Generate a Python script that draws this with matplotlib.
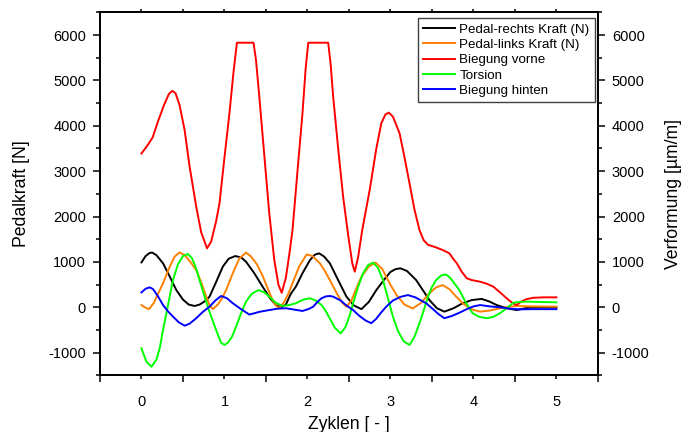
import numpy as np
import matplotlib
matplotlib.use("Agg")
import matplotlib.pyplot as plt

plt.rcParams['font.family'] = ['Liberation Sans', 'DejaVu Sans']

# ---------- Daten ----------
t_rechts = [0.00, 0.05, 0.10, 0.13, 0.18, 0.26, 0.34, 0.42, 0.50, 0.57, 0.64, 0.70, 0.76, 0.82,
            0.90, 0.98, 1.05, 1.13, 1.20, 1.26, 1.36, 1.46, 1.55, 1.62, 1.68, 1.74, 1.80, 1.86,
            1.94, 2.03, 2.09, 2.14, 2.20, 2.27, 2.37, 2.47, 2.56, 2.65, 2.74, 2.83, 2.92, 3.00,
            3.06, 3.12, 3.20, 3.31, 3.39, 3.47, 3.56, 3.65, 3.76, 3.87, 3.98, 4.10, 4.19, 4.28,
            4.40, 4.52, 4.60, 4.68, 5.00]
kraft_rechts = [990, 1130, 1200, 1205, 1150, 970, 680, 380, 170, 60, 30, 60, 130, 235,
                560, 895, 1070, 1130, 1100, 1005, 750, 455, 200, 50, 0, 60, 300, 455,
                750, 1040, 1160, 1190, 1120, 970, 600, 235, 40, -40, 120, 380, 600, 780,
                840, 860, 800, 600, 380, 160, -20, -95, -20, 90, 160, 185, 130, 50,
                -20, -60, -30, 0, 0]

t_links = [0.00, 0.04, 0.09, 0.15, 0.20, 0.26, 0.33, 0.40, 0.46, 0.52, 0.59, 0.66, 0.72, 0.78,
           0.82, 0.86, 0.92, 0.97, 1.02, 1.10, 1.18, 1.26, 1.32, 1.39, 1.46, 1.52, 1.58, 1.62,
           1.66, 1.72, 1.77, 1.82, 1.90, 1.99, 2.06, 2.15, 2.21, 2.27, 2.35, 2.42, 2.47, 2.53,
           2.59, 2.65, 2.74, 2.82, 2.90, 2.99, 3.07, 3.17, 3.27, 3.37, 3.47, 3.55, 3.63, 3.71,
           3.79, 3.87, 3.97, 4.08, 4.20, 4.32, 4.42, 4.52, 4.70, 5.00]
kraft_links = [50, 0, -40, 100, 300, 530, 850, 1120, 1210, 1150, 1000, 820, 550, 235,
               50, -40, 60, 200, 380, 750, 1080, 1205, 1120, 950, 695, 420, 160, 40,
               -20, 120, 300, 530, 900, 1165, 1130, 970, 800, 600, 320, 100, 15, 150,
               420, 675, 900, 985, 850, 530, 280, 60, -25, 100, 310, 440, 490, 400,
               240, 90, -40, -95, -70, -20, 10, 30, 20, 15]

t_vorne = [0.00, 0.07, 0.135, 0.20, 0.27, 0.33, 0.37, 0.41, 0.46, 0.52, 0.58, 0.66, 0.72, 0.79,
           0.84, 0.90, 0.94, 1.00, 1.06, 1.11, 1.15, 1.35, 1.38, 1.42, 1.48, 1.54, 1.60, 1.65,
           1.69, 1.74, 1.78, 1.82, 1.88, 1.94, 1.98, 2.01, 2.25, 2.28, 2.31, 2.37, 2.43, 2.49,
           2.54, 2.57, 2.61, 2.66, 2.75, 2.83, 2.89, 2.94, 2.98, 3.03, 3.11, 3.17, 3.23, 3.29,
           3.35, 3.40, 3.45, 3.55, 3.63, 3.71, 3.76, 3.80, 3.86, 3.92, 3.98, 4.08, 4.16, 4.24,
           4.32, 4.40, 4.46, 4.52, 4.58, 4.64, 4.72, 4.85, 5.00]
biegung_vorne = [3390, 3560, 3745, 4100, 4450, 4700, 4770, 4720, 4450, 3905, 3100, 2215, 1650, 1300,
                 1450, 1900, 2290, 3300, 4275, 5200, 5830, 5830, 5450, 4640, 3350, 2070, 1050, 500,
                 320, 650, 1150, 1700, 3000, 4275, 5300, 5830, 5830, 5350, 4640, 3500, 2435, 1600,
                 970, 785, 1100, 1700, 2585, 3500, 4055, 4250, 4290, 4200, 3835, 3300, 2730, 2150,
                 1700, 1480, 1380, 1320, 1262, 1190, 1060, 970, 780, 640, 600, 565, 520, 455,
                 330, 200, 110, 50, 130, 180, 210, 220, 220]

t_torsion = [0.00, 0.06, 0.12, 0.18, 0.22, 0.26, 0.32, 0.38, 0.44, 0.50, 0.56, 0.61, 0.66, 0.70,
             0.77, 0.84, 0.92, 0.96, 1.00, 1.04, 1.09, 1.14, 1.20, 1.26, 1.33, 1.41, 1.48, 1.54,
             1.62, 1.70, 1.78, 1.86, 1.95, 2.03, 2.10, 2.17, 2.22, 2.27, 2.33, 2.40, 2.46, 2.51,
             2.55, 2.61, 2.67, 2.73, 2.79, 2.85, 2.91, 2.97, 3.03, 3.09, 3.16, 3.23, 3.29, 3.34,
             3.39, 3.45, 3.50, 3.55, 3.61, 3.67, 3.72, 3.77, 3.83, 3.91, 3.99, 4.07, 4.16, 4.24,
             4.32, 4.40, 4.48, 4.56, 4.64, 5.00]
torsion = [-905, -1200, -1310, -1150, -900, -500, 50, 600, 950, 1130, 1175, 1080, 850, 600,
           180, -205, -600, -780, -830, -780, -650, -430, -130, 125, 300, 380, 330, 235,
           100, 30, 50, 90, 170, 200, 150, 50, -80, -250, -450, -575, -430, -170,
           90, 450, 750, 930, 985, 870, 600, 200, -205, -520, -750, -830, -650, -400,
           -130, 220, 450, 600, 700, 725, 650, 530, 380, 100, -130, -210, -240, -210,
           -130, -20, 100, 120, 125, 110]

t_hinten = [0.00, 0.05, 0.10, 0.14, 0.20, 0.26, 0.32, 0.38, 0.45, 0.52, 0.58, 0.66, 0.74, 0.82,
            0.89, 0.96, 1.03, 1.10, 1.20, 1.30, 1.42, 1.54, 1.64, 1.74, 1.84, 1.94, 2.01, 2.07,
            2.12, 2.17, 2.22, 2.27, 2.31, 2.40, 2.47, 2.55, 2.62, 2.70, 2.77, 2.83, 2.89, 2.95,
            3.03, 3.12, 3.21, 3.30, 3.36, 3.43, 3.50, 3.58, 3.65, 3.74, 3.83, 3.92, 4.00, 4.08,
            4.20, 4.32, 4.45, 4.56, 4.70, 5.00]
biegung_hinten = [330, 410, 440, 400, 240, 50, -90, -205, -330, -405, -360, -240, -100, 15,
                  150, 250, 200, 90, -40, -160, -100, -60, -30, -20, -50, -80, -40, 15,
                  120, 200, 240, 250, 235, 150, 40, -60, -180, -290, -350, -250, -110, 15,
                  150, 230, 270, 220, 160, 90, -20, -150, -240, -190, -120, -40, 20, 50,
                  20, 0, -30, -45, -40, -40]

# ---------- Diagramm ----------
fig, ax = plt.subplots(figsize=(6.81, 4.32), dpi=100)
fig.subplots_adjust(left=0.1468, right=0.878, bottom=0.131, top=0.9715)
ax2 = ax.twinx()
ax3 = ax.twiny()

lw = 1.4
l1, = ax.plot(t_rechts, kraft_rechts, color='black', lw=lw, label='Pedal-rechts Kraft (N)')
l2, = ax.plot(t_links, kraft_links, color='#FF8000', lw=lw, label='Pedal-links Kraft (N)')
l3, = ax2.plot(t_vorne, biegung_vorne, color='#FF0000', lw=lw, label='Biegung vorne')
l4, = ax2.plot(t_torsion, torsion, color='#00FF00', lw=lw, label='Torsion')
l5, = ax2.plot(t_hinten, biegung_hinten, color='#0000FF', lw=lw, label='Biegung hinten')

fs_tick = 10.5
fs_label = 12.7

for a in (ax, ax2, ax3):
    a.set_xlim(-0.5, 5.5)
    a.set_ylim(-1500, 6500)
    for s in a.spines.values():
        s.set_linewidth(1.1)

# x-Achse unten
ax.set_xticks(np.arange(-0.5, 5.6, 1.0))
ax.set_xticklabels([])
ax.set_xticks(range(6), minor=True)
ax.set_xticklabels([str(i) for i in range(6)], minor=True, fontsize=fs_tick)
ax.tick_params(axis='x', which='major', direction='out', length=5, width=1.1)
ax.tick_params(axis='x', which='minor', direction='out', length=3, width=1.1, pad=11)

# x-Achse oben
ax3.set_xticks(np.arange(0, 5.01, 0.5))
ax3.tick_params(axis='x', which='major', direction='out', length=2.5, width=1.1,
                labeltop=False, labelbottom=False)

# y-Achsen
yt = list(range(-1000, 6001, 1000))
ym = list(range(-1500, 6501, 1000))
for a in (ax, ax2):
    a.set_yticks(yt)
    a.set_yticklabels([str(v) for v in yt], fontsize=fs_tick)
    a.set_yticks(ym, minor=True)
    a.tick_params(axis='y', which='major', direction='out', length=5, width=1.1, pad=5)
    a.tick_params(axis='y', which='minor', direction='out', length=3, width=1.1)

ax.set_xlabel('Zyklen [ - ]', fontsize=fs_label, labelpad=5)
ax.set_ylabel('Pedalkraft [N]', fontsize=fs_label, labelpad=13)
ax2.set_ylabel('Verformung [µm/m]', fontsize=fs_label, labelpad=11)

leg = ax3.legend(handles=[l1, l2, l3, l4, l5], loc='upper right',
                 bbox_to_anchor=(0.994, 0.984), borderaxespad=0, fontsize=9.6,
                 fancybox=False, framealpha=1, edgecolor='#404040',
                 handlelength=2.4, handletextpad=0.3, labelspacing=0.22, borderpad=0.4)
leg.get_frame().set_linewidth(1.0)

fig.savefig('out.png', dpi=100)
